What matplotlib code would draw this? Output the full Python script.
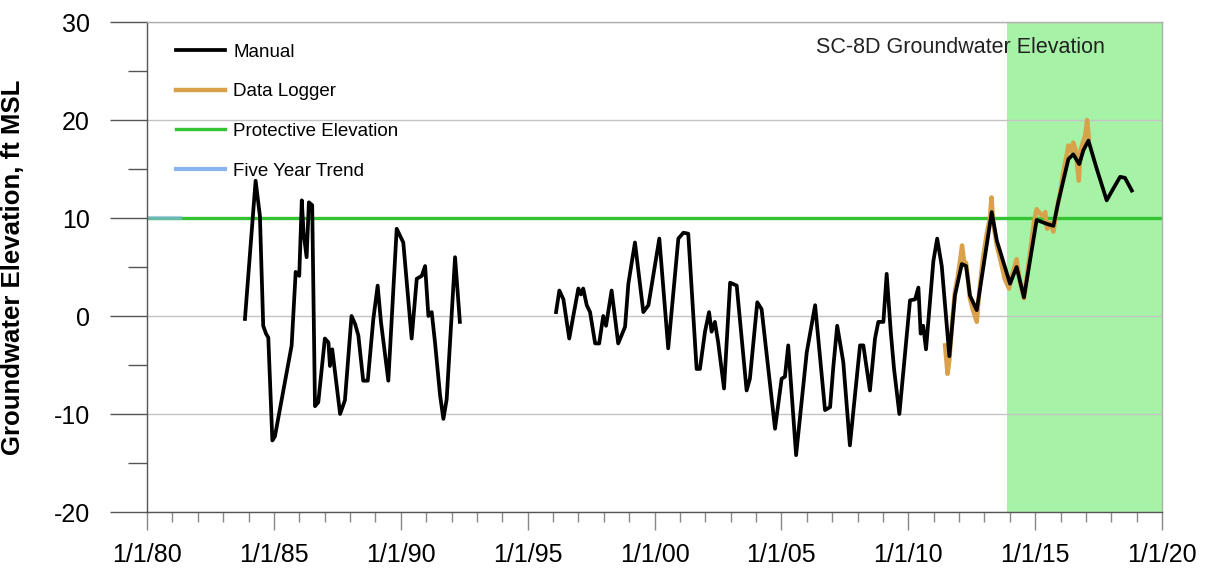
import matplotlib
matplotlib.use("Agg")
import matplotlib.pyplot as plt
from matplotlib.ticker import MultipleLocator, FixedLocator

plt.rcParams['font.family'] = ['Liberation Sans', 'DejaVu Sans']
plt.rcParams['axes.unicode_minus'] = False

# ---- data (decimal years, ft MSL) ----
manual_years_1 = [1983.86, 1984.28, 1984.45, 1984.58, 1984.69, 1984.78, 1984.94, 1985.04,
                  1985.70, 1985.86, 1986.00, 1986.10, 1986.17, 1986.29, 1986.38, 1986.51,
                  1986.62, 1986.75, 1987.01, 1987.15, 1987.21, 1987.30, 1987.61, 1987.80,
                  1988.06, 1988.20, 1988.33, 1988.52, 1988.70, 1988.92, 1989.09, 1989.22,
                  1989.51, 1989.84, 1990.10, 1990.43, 1990.63, 1990.83, 1990.96, 1991.09,
                  1991.22, 1991.35, 1991.55, 1991.68, 1991.81, 1992.14, 1992.33]
manual_vals_1 = [-0.3, 13.8, 10.2, -1.0, -1.8, -2.2, -12.7, -12.3,
                 -3.0, 4.5, 4.1, 11.8, 8.5, 6.0, 11.6, 11.3,
                 -9.2, -8.8, -2.3, -2.7, -5.1, -3.4, -10.0, -8.6,
                 0.0, -0.8, -2.0, -6.6, -6.6, -0.3, 3.1, -0.6,
                 -6.6, 8.9, 7.5, -2.3, 3.8, 4.1, 5.1, 0.0,
                 0.4, -2.7, -8.1, -10.5, -8.5, 6.0, -0.6]

manual_years_2 = [1996.12, 1996.25, 1996.41, 1996.64, 1996.80, 1997.00, 1997.10, 1997.19,
                  1997.33, 1997.46, 1997.66, 1997.82, 1997.98, 1998.09, 1998.31, 1998.57,
                  1998.84, 1998.97, 1999.23, 1999.56, 1999.76, 2000.19, 2000.54, 2000.94,
                  2001.14, 2001.33, 2001.66, 2001.79, 2001.99, 2002.15, 2002.25, 2002.38,
                  2002.51, 2002.74, 2002.98, 2003.24, 2003.63, 2003.76, 2004.05, 2004.22,
                  2004.75, 2005.01, 2005.14, 2005.27, 2005.58, 2006.00, 2006.33, 2006.72,
                  2006.92, 2007.05, 2007.20, 2007.44, 2007.70, 2008.10, 2008.23, 2008.49,
                  2008.69, 2008.82, 2009.02, 2009.15, 2009.31, 2009.44, 2009.65, 2010.07,
                  2010.27, 2010.40, 2010.49, 2010.59, 2010.70, 2010.99, 2011.14, 2011.32,
                  2011.62, 2011.84, 2012.11, 2012.28, 2012.43, 2012.70, 2013.29, 2013.49,
                  2014.01, 2014.27, 2014.56, 2015.06, 2015.26, 2015.46, 2015.72, 2015.91,
                  2016.31, 2016.50, 2016.74, 2016.90, 2017.10, 2017.43, 2017.82, 2018.08,
                  2018.35, 2018.54, 2018.81]
manual_vals_2 = [0.4, 2.6, 1.7, -2.3, 0.0, 2.8, 2.2, 2.8,
                 1.1, 0.4, -2.8, -2.8, 0.0, -1.0, 2.6, -2.8,
                 -1.1, 3.3, 7.5, 0.4, 1.1, 7.9, -3.3, 7.9,
                 8.5, 8.4, -5.4, -5.4, -1.6, 0.4, -1.6, -0.6,
                 -2.7, -7.4, 3.4, 3.1, -7.6, -6.4, 1.4, 0.7,
                 -11.5, -6.4, -6.2, -3.0, -14.2, -3.7, 1.1, -9.6,
                 -9.3, -5.1, -1.0, -4.7, -13.2, -3.0, -3.0, -7.6,
                 -2.3, -0.6, -0.6, 4.3, -1.6, -5.4, -10.0, 1.6,
                 1.7, 2.9, -1.8, -1.0, -3.4, 5.6, 7.9, 5.1,
                 -4.1, 2.1, 5.3, 5.1, 2.1, 0.6, 10.6, 7.7,
                 3.3, 5.0, 1.9, 9.8, 9.6, 9.4, 9.2, 11.6,
                 16.0, 16.5, 15.5, 16.9, 17.9, 15.0, 11.8, 13.0,
                 14.2, 14.1, 12.8]

logger_years = [2011.45, 2011.55, 2011.62, 2011.72, 2011.84, 2011.95, 2012.05, 2012.12,
                2012.20, 2012.28, 2012.36, 2012.43, 2012.55, 2012.70, 2012.80, 2012.95,
                2013.10, 2013.22, 2013.28, 2013.35, 2013.49, 2013.65, 2013.80, 2013.97,
                2014.10, 2014.27, 2014.40, 2014.56, 2014.75, 2014.95, 2015.06, 2015.18,
                2015.30, 2015.40, 2015.47, 2015.60, 2015.72, 2015.85, 2015.98, 2016.10,
                2016.25, 2016.31, 2016.42, 2016.50, 2016.60, 2016.72, 2016.80, 2016.88,
                2016.98, 2017.05, 2017.12]
logger_vals = [-3.0, -5.9, -4.5, -1.0, 2.5, 4.0, 5.8, 7.2,
               5.6, 5.4, 3.6, 1.8, 0.6, -0.6, 2.5, 6.0,
               8.5, 10.0, 12.1, 9.5, 7.2, 5.5, 3.8, 2.8,
               4.2, 5.8, 3.5, 1.8, 5.5, 9.5, 10.9, 10.5,
               10.2, 10.6, 8.9, 9.5, 8.6, 10.9, 12.5, 14.5,
               16.5, 17.4, 16.8, 17.7, 16.9, 13.8, 17.0, 17.7,
               18.5, 20.0, 18.1]

protective_elevation = 10.0
trend_years = [1980.0, 1981.3]
trend_vals = [10.0, 10.0]
shade_years = [2013.9, 2020.0]

x_tick_years = [1980, 1985, 1990, 1995, 2000, 2005, 2010, 2015, 2020]
x_tick_labels = ['1/1/80', '1/1/85', '1/1/90', '1/1/95', '1/1/00',
                 '1/1/05', '1/1/10', '1/1/15', '1/1/20']
y_ticks = [-20, -10, 0, 10, 20, 30]

# ---- figure ----
fig = plt.figure(figsize=(12.16, 5.81), dpi=100)
ax = fig.add_axes([147/1216, 1 - 512/581, (1162-147)/1216, (512-22)/581])

ax.axvspan(shade_years[0], shade_years[1], color='#a6f2a6', lw=0, zorder=0)
ax.set_xlim(1980, 2020)
ax.set_ylim(-20, 30)

ax.yaxis.set_major_locator(FixedLocator(y_ticks))
ax.yaxis.set_minor_locator(MultipleLocator(5))
ax.xaxis.set_major_locator(FixedLocator(x_tick_years))
ax.xaxis.set_minor_locator(MultipleLocator(1))
ax.set_xticklabels(x_tick_labels)
ax.grid(axis='y', which='major', color='#c4c4c4', lw=1.0, zorder=0.5)

ax.axhline(protective_elevation, color='#33c333', lw=2.4, zorder=2,
           label='Protective Elevation')
ax.plot(trend_years, trend_vals, color='#8ab4f0', lw=3.0, alpha=0.6, zorder=2.5,
        label='Five Year Trend')
ax.plot(logger_years, logger_vals, color='#d9a24a', lw=3.2, zorder=3,
        label='Data Logger')
ax.plot(manual_years_1, manual_vals_1, color='black', lw=2.7, zorder=4,
        solid_joinstyle='round', label='Manual')
ax.plot(manual_years_2, manual_vals_2, color='black', lw=2.7, zorder=4,
        solid_joinstyle='round')

# legend order
handles, labels = ax.get_legend_handles_labels()
order = ['Manual', 'Data Logger', 'Protective Elevation', 'Five Year Trend']
hmap = dict(zip(labels, handles))
leg = ax.legend([hmap[k] for k in order], order, loc='upper left',
                bbox_to_anchor=(0.0285, 0.956), frameon=False, fontsize=13.5,
                handlelength=2.6, handletextpad=0.45, labelspacing=1.2,
                borderpad=0, borderaxespad=0)
for lh in leg.get_lines():
    lh.set_alpha(1)

ax.text(0.944, 0.947, 'SC-8D Groundwater Elevation', transform=ax.transAxes,
        ha='right', va='center', fontsize=15.5, color='#222222')

ax.set_ylabel('Groundwater Elevation, ft MSL', fontsize=18.5, fontweight='bold')
ax.yaxis.set_label_coords(-0.12, 0.5)

ax.tick_params(axis='y', which='major', direction='out', length=27, width=1,
               color='#555555', labelsize=18, pad=14)
ax.tick_params(axis='y', which='minor', direction='out', length=14, width=1,
               color='#555555')
ax.tick_params(axis='x', which='major', direction='out', length=13, width=1,
               color='#888888', labelsize=18, pad=9)
ax.tick_params(axis='x', which='minor', direction='out', length=7, width=1,
               color='#888888')

for s in ['left', 'bottom']:
    ax.spines[s].set_color('#555555')
    ax.spines[s].set_linewidth(1.0)
for s in ['top', 'right']:
    ax.spines[s].set_color('#b0b0b0')
    ax.spines[s].set_linewidth(1.0)

fig.savefig('out.png', dpi=100)
